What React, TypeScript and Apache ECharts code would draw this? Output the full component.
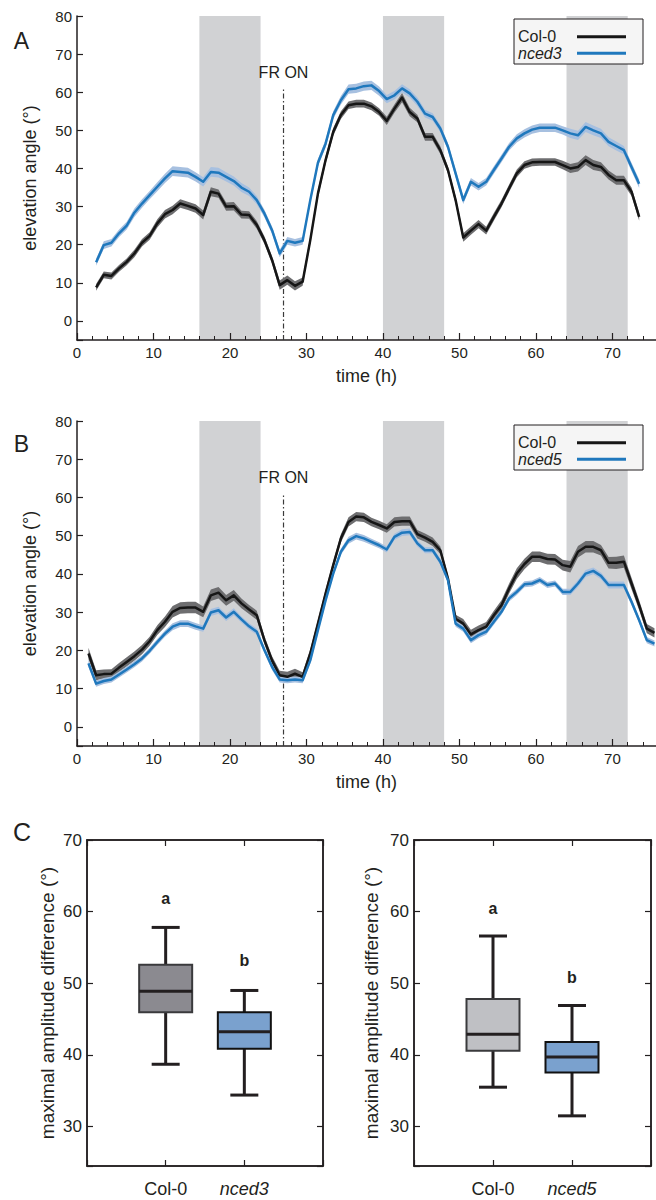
import React, { useEffect, useRef } from 'react';
import * as echarts from 'echarts';

// ---------- Panel A data (Col-0 vs nced3) ----------
const TIME_A = [
  2.5, 3.5, 4.5, 5.5, 6.5, 7.5, 8.5, 9.5, 10.5, 11.5,
  12.5, 13.5, 14.5, 15.5, 16.5, 17.5, 18.5, 19.5, 20.5, 21.5,
  22.5, 23.5, 24.5, 25.5, 26.5, 27.5, 28.5, 29.5, 30.5, 31.5,
  32.5, 33.5, 34.5, 35.5, 36.5, 37.5, 38.5, 39.5, 40.5, 41.5,
  42.5, 43.5, 44.5, 45.5, 46.5, 47.5, 48.5, 49.5, 50.5, 51.5,
  52.5, 53.5, 54.5, 55.5, 56.5, 57.5, 58.5, 59.5, 60.5, 61.5,
  62.5, 63.5, 64.5, 65.5, 66.5, 67.5, 68.5, 69.5, 70.5, 71.5,
  72.5, 73.5,
];
const COL0_A = [
  8.8, 12.1, 11.8, 13.8, 15.5, 17.7, 20.5, 22.3, 25.6, 28.0,
  29.1, 30.8, 30.2, 29.5, 27.8, 33.9, 33.4, 30.0, 30.1, 27.9,
  27.8, 25.2, 21.2, 16.0, 9.4, 10.7, 9.2, 10.3, 21.2, 33.4,
  42.2, 49.6, 54.0, 56.6, 57.0, 57.0, 56.3, 54.8, 52.5, 55.7,
  58.6, 54.8, 53.1, 48.3, 48.3, 44.8, 39.6, 31.7, 21.9, 23.7,
  25.4, 23.7, 27.3, 30.8, 34.8, 38.7, 40.9, 41.6, 41.7, 41.7,
  41.7, 40.9, 40.0, 40.4, 42.2, 40.9, 40.4, 38.3, 36.9, 36.9,
  33.9, 27.3,
];
const COL0_A_SE = [
  0.9, 0.9, 0.9, 0.9, 0.9, 1.0, 1.0, 1.0, 1.1, 1.1,
  1.1, 1.1, 1.1, 1.1, 1.2, 1.2, 1.1, 1.1, 1.1, 1.0,
  1.0, 1.0, 1.0, 1.0, 1.2, 1.2, 1.2, 1.1, 1.0, 1.0,
  1.0, 1.0, 1.0, 1.0, 1.0, 1.0, 1.0, 1.0, 1.1, 1.1,
  1.2, 1.1, 1.0, 1.0, 1.0, 1.0, 1.0, 1.0, 1.1, 1.1,
  1.1, 1.0, 1.0, 1.0, 1.0, 1.0, 1.0, 1.0, 1.0, 1.0,
  1.0, 1.1, 1.2, 1.2, 1.3, 1.3, 1.2, 1.2, 1.2, 1.2,
  1.1, 1.0,
];
const NCED3_A = [
  15.4, 19.9, 20.5, 23.0, 25.0, 28.4, 30.8, 33.0, 35.2, 37.4,
  39.3, 39.1, 38.9, 37.8, 36.5, 39.1, 38.9, 37.8, 36.7, 35.0,
  33.9, 31.7, 28.2, 23.8, 17.7, 21.0, 20.5, 21.0, 31.7, 41.5,
  46.5, 54.0, 57.9, 60.8, 61.0, 61.6, 61.8, 60.3, 58.2, 59.2,
  61.0, 59.7, 57.5, 54.4, 53.5, 50.5, 45.7, 38.7, 31.7, 36.5,
  35.2, 36.5, 39.6, 42.6, 45.7, 47.9, 49.2, 50.2, 50.7, 50.7,
  50.7, 50.0, 49.2, 48.7, 50.9, 50.0, 49.2, 47.0, 45.9, 44.8,
  40.4, 36.0,
];
const NCED3_A_SE = [
  0.9, 1.0, 1.0, 1.0, 1.0, 1.1, 1.1, 1.1, 1.2, 1.2,
  1.3, 1.3, 1.3, 1.2, 1.2, 1.3, 1.3, 1.2, 1.2, 1.2,
  1.1, 1.1, 1.0, 1.0, 1.0, 1.0, 1.0, 1.0, 1.0, 1.0,
  1.0, 1.0, 1.1, 1.2, 1.2, 1.2, 1.2, 1.2, 1.1, 1.1,
  1.1, 1.1, 1.1, 1.0, 1.0, 1.0, 1.0, 1.0, 1.0, 1.0,
  1.0, 1.0, 1.0, 1.0, 1.0, 1.1, 1.1, 1.1, 1.1, 1.1,
  1.1, 1.1, 1.2, 1.2, 1.3, 1.3, 1.2, 1.2, 1.2, 1.1,
  1.1, 1.1,
];

// ---------- Panel B data (Col-0 vs nced5) ----------
const TIME_B = [
  1.5, 2.5, 3.5, 4.5, 5.5, 6.5, 7.5, 8.5, 9.5, 10.5,
  11.5, 12.5, 13.5, 14.5, 15.5, 16.5, 17.5, 18.5, 19.5, 20.5,
  21.5, 22.5, 23.5, 24.5, 25.5, 26.5, 27.5, 28.5, 29.5, 30.5,
  31.5, 32.5, 33.5, 34.5, 35.5, 36.5, 37.5, 38.5, 39.5, 40.5,
  41.5, 42.5, 43.5, 44.5, 45.5, 46.5, 47.5, 48.5, 49.5, 50.5,
  51.5, 52.5, 53.5, 54.5, 55.5, 56.5, 57.5, 58.5, 59.5, 60.5,
  61.5, 62.5, 63.5, 64.5, 65.5, 66.5, 67.5, 68.5, 69.5, 70.5,
  71.5, 72.5, 73.5, 74.5, 75.5,
];
const COL0_B = [
  19.2, 13.5, 13.8, 13.9, 15.5, 17.0, 18.5, 20.2, 22.4, 25.3,
  27.5, 30.1, 31.1, 31.2, 31.2, 30.1, 34.4, 35.1, 33.1, 34.4,
  32.3, 30.7, 29.2, 22.7, 17.4, 13.5, 13.1, 13.9, 13.1, 19.2,
  27.0, 34.9, 42.3, 49.3, 53.6, 55.0, 54.8, 53.6, 52.8, 51.9,
  53.6, 53.8, 53.8, 50.4, 49.5, 48.4, 46.2, 38.8, 28.3, 27.0,
  24.2, 25.3, 26.2, 29.2, 31.8, 36.2, 40.1, 42.6, 44.5, 44.5,
  43.9, 43.8, 42.3, 41.9, 45.8, 47.1, 47.1, 46.2, 42.9, 42.9,
  43.2, 37.5, 31.8, 25.7, 24.6,
];
const COL0_B_SE = [
  1.5, 1.3, 1.2, 1.2, 1.2, 1.2, 1.2, 1.2, 1.2, 1.3,
  1.4, 1.5, 1.5, 1.5, 1.5, 1.4, 1.5, 1.5, 1.4, 1.4,
  1.3, 1.2, 1.2, 1.1, 1.1, 1.2, 1.3, 1.3, 1.2, 1.1,
  1.0, 1.0, 1.0, 1.1, 1.2, 1.2, 1.2, 1.1, 1.1, 1.1,
  1.2, 1.2, 1.2, 1.1, 1.1, 1.1, 1.0, 1.0, 1.0, 1.2,
  1.2, 1.2, 1.2, 1.2, 1.3, 1.3, 1.4, 1.4, 1.4, 1.4,
  1.4, 1.4, 1.4, 1.5, 1.5, 1.5, 1.5, 1.4, 1.5, 1.6,
  1.6, 1.5, 1.3, 1.2, 1.2,
];
const NCED5_B = [
  16.6, 11.3, 12.0, 12.4, 13.7, 15.0, 16.4, 17.9, 19.9, 22.2,
  24.4, 26.2, 27.0, 27.0, 26.3, 25.7, 29.9, 30.5, 28.6, 30.1,
  28.1, 26.3, 24.9, 20.1, 15.7, 12.4, 12.2, 12.4, 12.2, 17.4,
  25.3, 33.1, 40.1, 45.8, 48.8, 49.9, 49.3, 48.4, 47.5, 46.4,
  49.7, 50.8, 51.0, 48.0, 46.2, 46.2, 43.2, 38.4, 27.0, 25.7,
  22.7, 24.0, 24.9, 27.5, 30.1, 33.6, 35.3, 37.3, 37.5, 38.4,
  37.1, 37.5, 35.3, 35.3, 37.5, 40.1, 40.8, 39.5, 37.1, 37.1,
  37.1, 32.7, 27.9, 22.7, 21.8,
];
const NCED5_B_SE = [
  1.0, 0.8, 0.8, 0.8, 0.8, 0.8, 0.8, 0.8, 0.8, 0.8,
  0.8, 0.9, 0.9, 0.9, 0.9, 0.8, 0.9, 0.9, 0.9, 0.9,
  0.8, 0.8, 0.8, 0.8, 0.8, 0.8, 0.8, 0.8, 0.8, 0.8,
  0.8, 0.8, 0.8, 0.8, 0.9, 0.9, 0.9, 0.8, 0.8, 0.8,
  0.8, 0.9, 0.9, 0.8, 0.8, 0.8, 0.8, 0.8, 0.8, 0.8,
  0.8, 0.8, 0.8, 0.8, 0.8, 0.8, 0.8, 0.8, 0.8, 0.8,
  0.8, 0.8, 0.8, 0.8, 0.9, 0.9, 0.9, 0.9, 0.9, 0.9,
  0.9, 0.9, 0.8, 0.8, 0.8,
];

// dark periods (h) and far-red switch
const NIGHT_START = [16, 40, 64];
const NIGHT_END = [24, 48, 72];
const FR_TIME = 27;
const FR_LINE_TOP = 61.2;
const FR_LABEL_Y = 65.2;
const FR_TEXT = 'FR ON';

// ---------- Panel C data (box plots: min, Q1, median, Q3, max) ----------
const C_LEFT_GROUPS = ['Col-0', 'nced3'];
const C_LEFT_STATS = [
  [38.7, 45.95, 48.9, 52.6, 57.8],
  [34.4, 40.85, 43.25, 45.95, 49.0],
];
const C_LEFT_LETTERS = ['a', 'b'];
const C_LEFT_LETTER_Y = [61.8, 53.2];

const C_RIGHT_GROUPS = ['Col-0', 'nced5'];
const C_RIGHT_STATS = [
  [35.5, 40.6, 42.9, 47.8, 56.6],
  [31.5, 37.55, 39.7, 41.8, 46.9],
];
const C_RIGHT_LETTERS = ['a', 'b'];
const C_RIGHT_LETTER_Y = [60.4, 50.85];

// ---------- styles ----------
const FONT = '"Liberation Sans", Arial, Helvetica, sans-serif';
const INK = '#231f20';
const BLACK_LINE = '#161616';
const BLUE_LINE = '#1f78bd';
const BLACK_BAND = '#6e6e70';
const BLUE_BAND = '#a7c0e0';
const NIGHT_FILL = '#d1d2d4';
const BOX_FILLS_LEFT = ['#8b8a90', '#7aa1ce'];
const BOX_FILLS_RIGHT = ['#bfc0c4', '#7aa1ce'];
const BOX_BORDERS = ['#3a3a3c', '#111111'];
const TIME_X_MAX = 75.7;
const TIME_Y_MIN = -5;
const TIME_Y_MAX = 80;

function timeAxis(gi: number) {
  return {
    gridIndex: gi,
    type: 'value',
    position: 'bottom',
    min: 0,
    max: TIME_X_MAX,
    interval: 10,
    axisLine: { show: true, onZero: false, lineStyle: { color: INK, width: 1.5 } },
    axisTick: { show: true, inside: true, length: 7, lineStyle: { color: INK, width: 1.2 } },
    axisLabel: { fontSize: 15, color: INK, margin: 5, showMaxLabel: false },
    splitLine: { show: false },
    name: 'time (h)',
    nameLocation: 'middle',
    nameGap: 27,
    nameTextStyle: { fontSize: 18, fontWeight: 'normal', color: INK },
  };
}

// 2-hour minor ticks sharing the same grid
function timeMinorAxis(gi: number) {
  return {
    gridIndex: gi,
    type: 'value',
    position: 'bottom',
    min: 0,
    max: TIME_X_MAX,
    interval: 2,
    axisLine: { show: false, onZero: false },
    axisTick: { show: true, inside: true, length: 4, lineStyle: { color: INK, width: 1 } },
    axisLabel: { show: false },
    splitLine: { show: false },
  };
}

function angleAxis(gi: number) {
  return {
    gridIndex: gi,
    type: 'value',
    min: TIME_Y_MIN,
    max: TIME_Y_MAX,
    splitNumber: 8,
    axisLine: { show: true, onZero: false, lineStyle: { color: INK, width: 1.5 } },
    axisTick: { show: true, inside: true, length: 6, lineStyle: { color: INK, width: 1.2 } },
    axisLabel: {
      fontSize: 15,
      color: INK,
      margin: 5,
      formatter: (v: number) => (v < 0 ? '' : String(v)),
    },
    splitLine: { show: false },
    name: 'elevation angle (°)',
    nameLocation: 'middle',
    nameGap: 38,
    nameTextStyle: { fontSize: 18, fontWeight: 'normal', color: INK },
  };
}

function groupAxis(gi: number, groups: string[], top: boolean) {
  return {
    gridIndex: gi,
    type: 'category',
    position: top ? 'top' : 'bottom',
    data: [' ', ...groups, '  '],
    boundaryGap: false,
    axisLine: { show: true, lineStyle: { color: INK, width: 1.5 } },
    axisTick: { show: true, inside: true, length: 6, interval: 0, lineStyle: { color: INK, width: 1.2 } },
    axisLabel: {
      show: !top,
      interval: 0,
      fontSize: 18,
      color: INK,
      margin: 14,
      formatter: (v: string) => (v.trim() === '' ? '' : v === 'Col-0' ? v : `{i|${v}}`),
      rich: { i: { fontStyle: 'italic', fontSize: 18, color: INK } },
    },
    splitLine: { show: false },
  };
}

function ampAxis(gi: number, right: boolean, gap: number) {
  return {
    gridIndex: gi,
    type: 'value',
    position: right ? 'right' : 'left',
    min: 24.5,
    max: 70,
    splitNumber: 5,
    axisLine: { show: true, onZero: false, lineStyle: { color: INK, width: 1.5 } },
    axisTick: { show: true, inside: true, length: 6, lineStyle: { color: INK, width: 1.2 } },
    axisLabel: {
      show: !right,
      fontSize: 17,
      color: INK,
      margin: 5,
      formatter: (v: number) => (v % 10 === 0 ? String(v) : ''),
    },
    splitLine: { show: false },
    name: right ? '' : 'maximal amplitude difference (°)',
    nameLocation: 'middle',
    nameGap: gap,
    nameTextStyle: { fontSize: 19, fontWeight: 'normal', color: INK },
  };
}

function nightSeries(xi: number, yi: number) {
  return {
    type: 'custom',
    name: 'dark-' + yi,
    xAxisIndex: xi,
    yAxisIndex: yi,
    silent: true,
    z: 0,
    data: NIGHT_START.map((s, i) => [s, NIGHT_END[i]]),
    renderItem: (_p: any, api: any) => {
      const a = api.coord([api.value(0), TIME_Y_MAX]);
      const b = api.coord([api.value(1), TIME_Y_MIN]);
      return {
        type: 'rect',
        shape: { x: a[0], y: a[1], width: b[0] - a[0], height: b[1] - a[1] },
        style: { fill: NIGHT_FILL },
      };
    },
  };
}

function frSeries(xi: number, yi: number) {
  return [
    {
      type: 'line',
      name: 'fr-line-' + yi,
      xAxisIndex: xi,
      yAxisIndex: yi,
      silent: true,
      z: 1,
      symbol: 'none',
      data: [
        [FR_TIME, TIME_Y_MIN],
        [FR_TIME, FR_LINE_TOP],
      ],
      lineStyle: { color: '#3a3a3a', width: 1.2, type: [5, 2.5, 1.5, 2.5] },
    },
    {
      type: 'scatter',
      name: 'fr-label-' + yi,
      xAxisIndex: xi,
      yAxisIndex: yi,
      silent: true,
      z: 6,
      symbolSize: 1,
      itemStyle: { color: '#ffffff', opacity: 1 },
      data: [[FR_TIME, FR_LABEL_Y]],
      label: {
        show: true,
        position: 'inside',
        formatter: () => FR_TEXT,
        fontSize: 16,
        color: INK,
        opacity: 1,
      },
    },
  ];
}

function bandSeries(name: string, xi: number, yi: number, t: number[], v: number[], se: number[], color: string) {
  return {
    type: 'custom',
    name,
    xAxisIndex: xi,
    yAxisIndex: yi,
    silent: true,
    z: 2,
    data: [[t[0], v[0]]],
    renderItem: (_p: any, api: any) => {
      const pts: number[][] = [];
      for (let i = 0; i < t.length; i++) pts.push(api.coord([t[i], v[i] + se[i]]));
      for (let i = t.length - 1; i >= 0; i--) pts.push(api.coord([t[i], v[i] - se[i]]));
      return { type: 'polygon', shape: { points: pts }, style: { fill: color } };
    },
  };
}

function lineSeries(name: string, xi: number, yi: number, t: number[], v: number[], color: string, z: number) {
  return {
    type: 'line',
    name,
    xAxisIndex: xi,
    yAxisIndex: yi,
    silent: true,
    z,
    symbol: 'none',
    showSymbol: false,
    data: t.map((x, i) => [x, v[i]]),
    lineStyle: { color, width: 2.5, join: 'round' },
    itemStyle: { color },
  };
}

function boxSeries(xi: number, yi: number, groups: string[], stats: number[][], fills: string[]) {
  return {
    type: 'custom',
    name: 'box-' + yi,
    xAxisIndex: xi,
    yAxisIndex: yi,
    silent: true,
    z: 3,
    data: groups.map((g, i) => [g, ...stats[i]]),
    encode: { x: 0, y: [1, 2, 3, 4, 5] },
    renderItem: (params: any, api: any) => {
      const idx = params.dataIndex;
      const x = api.value(0);
      const c = (k: number) => api.coord([x, api.value(k)]);
      const pMin = c(1);
      const pQ1 = c(2);
      const pMed = c(3);
      const pQ3 = c(4);
      const pMax = c(5);
      const cx = pMed[0];
      const hw = 26.5;
      const cw = 14;
      const ln = (x1: number, y1: number, x2: number, y2: number, w: number) => ({
        type: 'line',
        shape: { x1, y1, x2, y2 },
        style: { stroke: INK, lineWidth: w },
      });
      return {
        type: 'group',
        children: [
          ln(cx, pQ3[1], cx, pMax[1], 3),
          ln(cx - cw, pMax[1], cx + cw, pMax[1], 3),
          ln(cx, pQ1[1], cx, pMin[1], 3),
          ln(cx - cw, pMin[1], cx + cw, pMin[1], 3),
          {
            type: 'rect',
            shape: { x: cx - hw, y: pQ3[1], width: 2 * hw, height: pQ1[1] - pQ3[1] },
            style: { fill: fills[idx], stroke: BOX_BORDERS[idx], lineWidth: 2 },
          },
          ln(cx - hw, pMed[1], cx + hw, pMed[1], 3),
        ],
      };
    },
  };
}

function letterSeries(xi: number, yi: number, groups: string[], letters: string[], ys: number[]) {
  return {
    type: 'scatter',
    name: 'letters-' + yi,
    xAxisIndex: xi,
    yAxisIndex: yi,
    silent: true,
    z: 6,
    symbolSize: 1,
    itemStyle: { color: '#ffffff', opacity: 1 },
    data: groups.map((g, i) => [g, ys[i]]),
    label: {
      show: true,
      position: 'inside',
      formatter: (p: any) => letters[p.dataIndex],
      fontSize: 16,
      fontWeight: 'bold',
      color: INK,
      opacity: 1,
    },
  };
}

function legendFor(top: number, mutant: string) {
  return {
    data: ['Col-0', mutant],
    left: 514,
    top,
    orient: 'vertical',
    align: 'right',
    selectedMode: false,
    icon: 'rect',
    itemWidth: 49,
    itemHeight: 3,
    itemGap: 0.6,
    padding: [9.7, 17, 2.7, 4],
    backgroundColor: '#f5f5f5',
    borderColor: INK,
    borderWidth: 1,
    borderRadius: 0,
    formatter: (n: string) => (n === 'Col-0' ? `{n|${n}}` : `{i|${n}}`),
    textStyle: {
      fontSize: 16,
      color: INK,
      rich: {
        n: { width: 54, height: 16, lineHeight: 16, fontSize: 16, color: INK, align: 'left' },
        i: { width: 54, height: 16, lineHeight: 16, fontSize: 16, color: INK, fontStyle: 'italic', align: 'left' },
      },
    },
  };
}

function buildOption() {
  return {
    animation: false,
    backgroundColor: '#ffffff',
    textStyle: { fontFamily: FONT, color: INK },
    grid: [
      { left: 77, top: 16, right: 0, height: 324 },
      { left: 77, top: 421, right: 0, height: 325 },
      { left: 87, top: 840, width: 236, height: 326, show: true, borderColor: INK, borderWidth: 1.5, backgroundColor: 'transparent' },
      { left: 414, top: 840, width: 237, height: 326, show: true, borderColor: INK, borderWidth: 1.5, backgroundColor: 'transparent' },
    ],
    xAxis: [
      timeAxis(0),
      timeMinorAxis(0),
      timeAxis(1),
      timeMinorAxis(1),
      groupAxis(2, C_LEFT_GROUPS, false),
      groupAxis(2, C_LEFT_GROUPS, true),
      groupAxis(3, C_RIGHT_GROUPS, false),
      groupAxis(3, C_RIGHT_GROUPS, true),
    ],
    yAxis: [
      angleAxis(0),
      angleAxis(1),
      ampAxis(2, false, 30),
      ampAxis(2, true, 0),
      ampAxis(3, false, 33),
      ampAxis(3, true, 0),
    ],
    legend: [legendFor(19, 'nced3'), legendFor(425, 'nced5')],
    graphic: [
      { type: 'text', x: 21.5, y: 40.5, style: { text: 'A', fontSize: 23, fontFamily: FONT, fill: INK, align: 'center', verticalAlign: 'middle' } },
      { type: 'text', x: 21.5, y: 444, style: { text: 'B', fontSize: 23, fontFamily: FONT, fill: INK, align: 'center', verticalAlign: 'middle' } },
      { type: 'text', x: 22, y: 832, style: { text: 'C', fontSize: 25, fontFamily: FONT, fill: INK, align: 'center', verticalAlign: 'middle' } },
    ],
    series: [
      nightSeries(0, 0),
      ...frSeries(0, 0),
      bandSeries('Col-0 SE A', 0, 0, TIME_A, COL0_A, COL0_A_SE, BLACK_BAND),
      bandSeries('nced3 SE', 0, 0, TIME_A, NCED3_A, NCED3_A_SE, BLUE_BAND),
      lineSeries('Col-0', 0, 0, TIME_A, COL0_A, BLACK_LINE, 4),
      lineSeries('nced3', 0, 0, TIME_A, NCED3_A, BLUE_LINE, 5),

      nightSeries(2, 1),
      ...frSeries(2, 1),
      bandSeries('Col-0 SE B', 2, 1, TIME_B, COL0_B, COL0_B_SE, BLACK_BAND),
      bandSeries('nced5 SE', 2, 1, TIME_B, NCED5_B, NCED5_B_SE, BLUE_BAND),
      lineSeries('Col-0', 2, 1, TIME_B, COL0_B, BLACK_LINE, 4),
      lineSeries('nced5', 2, 1, TIME_B, NCED5_B, BLUE_LINE, 5),

      boxSeries(4, 2, C_LEFT_GROUPS, C_LEFT_STATS, BOX_FILLS_LEFT),
      letterSeries(4, 2, C_LEFT_GROUPS, C_LEFT_LETTERS, C_LEFT_LETTER_Y),
      boxSeries(6, 4, C_RIGHT_GROUPS, C_RIGHT_STATS, BOX_FILLS_RIGHT),
      letterSeries(6, 4, C_RIGHT_GROUPS, C_RIGHT_LETTERS, C_RIGHT_LETTER_Y),
    ],
  };
}

export default function App() {
  const ref = useRef<HTMLDivElement>(null);
  useEffect(() => {
    if (!ref.current) return;
    const chart = echarts.init(ref.current, null, { renderer: 'svg' });
    chart.setOption(buildOption() as any);
    return () => {
      chart.dispose();
    };
  }, []);
  return (
    <div
      ref={ref}
      style={{ position: 'absolute', left: 0, top: 0, width: 656, height: 1200, background: '#fff' }}
    />
  );
}
